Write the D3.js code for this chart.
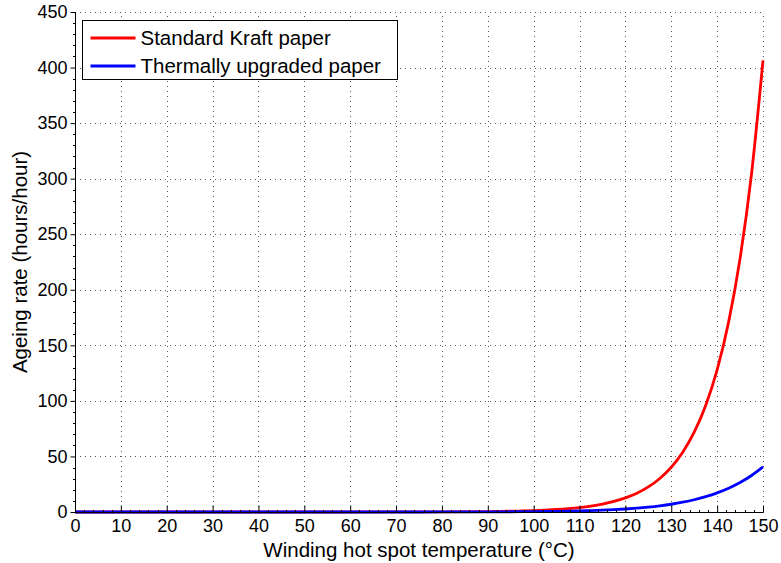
<!DOCTYPE html>
<html>
<head>
<meta charset="utf-8">
<script src="https://cdn.jsdelivr.net/npm/d3@7"></script>
<style>
  html, body { margin: 0; padding: 0; background: #fff; }
  svg { display: block; font-family: "Liberation Sans", Arial, Helvetica, sans-serif; }
</style>
</head>
<body>
<svg id="chart" width="781" height="563"></svg>
<script>
// Winding hot spot temperature (°C)
const temperatures = [0, 10, 20, 30, 40, 50, 60, 70, 80, 90, 95, 97.5,
  100, 102.5, 105, 107.5, 110, 112.5, 115, 117.5, 120, 122.5, 125, 127.5,
  130, 132.5, 135, 137.5, 140, 142.5, 145, 147.5, 150];

// Relative ageing rate (hours/hour), standard Kraft paper
const kraftRate = [0, 0, 0, 0, 0, 0.004, 0.012, 0.039, 0.125, 0.397, 0.707, 0.944,
  1.26, 1.68, 2.24, 3.00, 4.00, 5.34, 7.13, 9.51, 12.7, 16.9, 22.6, 30.2,
  40.3, 53.8, 71.8, 95.9, 128, 170.9, 228.1, 304.4, 406.4];

// Relative ageing rate (hours/hour), thermally upgraded paper
const upgradedRate = [0, 0, 0, 0, 0, 0.001, 0.003, 0.011, 0.036, 0.116, 0.203, 0.267,
  0.350, 0.457, 0.596, 0.773, 1.00, 1.29, 1.66, 2.12, 2.71, 3.45, 4.38, 5.54,
  6.98, 8.79, 11.02, 13.78, 17.19, 21.40, 26.56, 32.87, 40.59];

const xTicks = [0, 10, 20, 30, 40, 50, 60, 70, 80, 90, 100, 110, 120, 130, 140, 150];
const yTicks = [0, 50, 100, 150, 200, 250, 300, 350, 400, 450];

const seriesNames = ["Standard Kraft paper", "Thermally upgraded paper"];
const seriesColors = ["#ff0000", "#0000ff"];

(function draw() {
  const svg = d3.select("#chart");
  const pLeft = 75, pRight = 763, pTop = 12, pBottom = 512;
  const tickFont = 18, labelFont = 20.5;

  const x = d3.scaleLinear().domain([0, 150]).range([pLeft, pRight]);
  const y = d3.scaleLinear().domain([0, 450]).range([pBottom, pTop]);

  // dotted grid
  const grid = svg.append("g").attr("stroke", "#555").attr("stroke-width", 1)
    .attr("stroke-dasharray", "1,4");
  xTicks.filter(t => t > 0).forEach(t => {
    grid.append("line").attr("x1", Math.round(x(t)) + 0.5).attr("x2", Math.round(x(t)) + 0.5)
      .attr("y1", pBottom).attr("y2", pTop);
  });
  yTicks.filter(t => t > 0).forEach(t => {
    grid.append("line").attr("x1", pLeft).attr("x2", pRight)
      .attr("y1", Math.round(y(t)) + 0.5).attr("y2", Math.round(y(t)) + 0.5);
  });

  // curves
  const series = [kraftRate, upgradedRate];
  const line = d3.line().curve(d3.curveMonotoneX);
  series.forEach((vals, i) => {
    svg.append("path")
      .attr("d", line(temperatures.map((t, k) => [x(t), y(vals[k])])))
      .attr("fill", "none")
      .attr("stroke", seriesColors[i])
      .attr("stroke-width", 2.8)
      .attr("stroke-linejoin", "round");
  });

  // y axis: outward major ticks, minor ticks every 10
  const yAxis = d3.axisLeft(y).tickValues(yTicks).tickSize(5).tickPadding(3);
  const yG = svg.append("g").attr("transform", `translate(${pLeft + 0.5},0)`).call(yAxis);
  yG.select(".domain").attr("d", `M0,${pTop}V${pBottom + 0.5}`);
  yG.selectAll(".tick text").attr("font-size", tickFont).attr("fill", "#000")
    .attr("font-family", "Liberation Sans, Arial, sans-serif");
  yG.selectAll(".tick line").attr("stroke", "#000");
  const yMinor = d3.range(0, 451, 10).filter(v => v % 50 !== 0);
  svg.append("g").selectAll("line").data(yMinor).join("line")
    .attr("x1", pLeft - 2).attr("x2", pLeft + 0.5)
    .attr("y1", d => Math.round(y(d)) + 0.5).attr("y2", d => Math.round(y(d)) + 0.5)
    .attr("stroke", "#000");

  // x axis: inward major ticks, minor ticks every 2
  const xAxis = d3.axisBottom(x).tickValues(xTicks).tickSize(-7).tickPadding(7);
  const xG = svg.append("g").attr("transform", `translate(0,${pBottom + 0.5})`).call(xAxis);
  xG.select(".domain").attr("d", `M${pLeft},0H${pRight + 0.5}`);
  xG.selectAll(".tick text").attr("font-size", tickFont).attr("fill", "#000")
    .attr("font-family", "Liberation Sans, Arial, sans-serif");
  xG.selectAll(".tick line").attr("stroke", "#000");
  const xMinor = d3.range(0, 151, 2).filter(v => v % 10 !== 0);
  svg.append("g").selectAll("line").data(xMinor).join("line")
    .attr("x1", d => Math.round(x(d)) + 0.5).attr("x2", d => Math.round(x(d)) + 0.5)
    .attr("y1", pBottom + 0.5).attr("y2", pBottom - 2)
    .attr("stroke", "#000");

  // axis titles
  svg.append("text").attr("x", (pLeft + pRight) / 2).attr("y", 557)
    .attr("text-anchor", "middle").attr("font-size", labelFont)
    .text("Winding hot spot temperature (°C)");
  svg.append("text").attr("transform", `translate(27,${(pTop + pBottom) / 2}) rotate(-90)`)
    .attr("text-anchor", "middle").attr("font-size", labelFont)
    .text("Ageing rate (hours/hour)");

  // legend
  const lg = svg.append("g").attr("transform", "translate(82.5,20.5)");
  lg.append("rect").attr("width", 315).attr("height", 59)
    .attr("fill", "#fff").attr("stroke", "#000").attr("stroke-width", 1);
  seriesNames.forEach((name, i) => {
    const cy = 17.5 + i * 28;
    lg.append("line").attr("x1", 8).attr("x2", 53).attr("y1", cy).attr("y2", cy)
      .attr("stroke", seriesColors[i]).attr("stroke-width", 2.8);
    lg.append("text").attr("x", 58).attr("y", cy + 7).attr("font-size", labelFont).text(name);
  });
})();
</script>
</body>
</html>
